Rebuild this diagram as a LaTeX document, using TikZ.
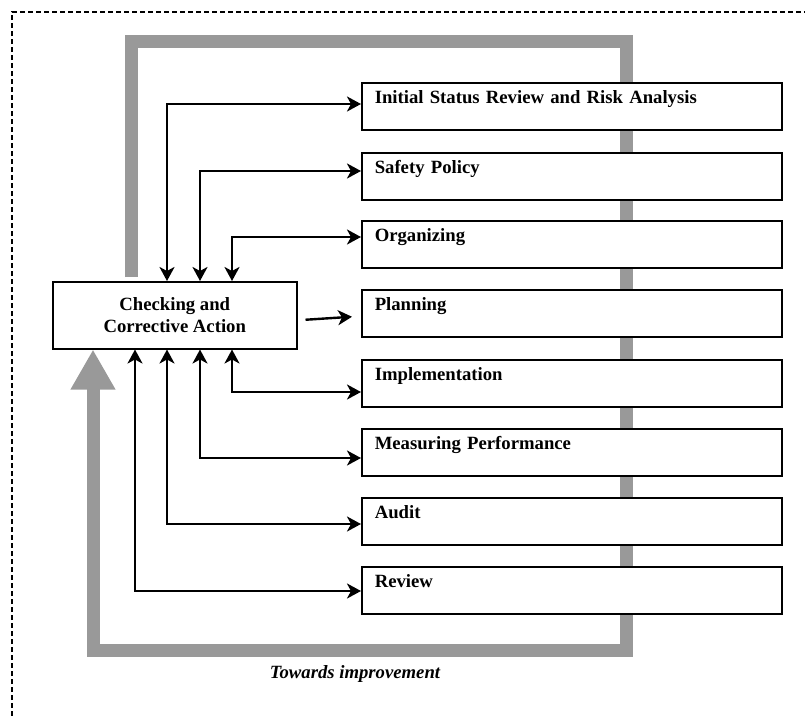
\documentclass[tikz,border=0pt]{standalone}
\usepackage{fontspec}
\setmainfont{Liberation Serif}
\usetikzlibrary{arrows.meta,calc}
\definecolor{bandgray}{HTML}{999999}
\tikzset{
  stepbox/.style={draw, line width=1.5pt, fill=white, anchor=north west,
    text width=394pt, inner xsep=13pt, inner ysep=0pt, text height=21pt, text depth=26pt,
    align=left, font=\fontsize{18.7}{22}\selectfont\bfseries},
  chkbox/.style={draw, line width=1.5pt, fill=white, anchor=north west,
    minimum width=244pt, minimum height=67pt, inner sep=0pt, align=center,
    font=\fontsize{18.7}{22}\selectfont\bfseries},
  conn/.style={line width=2.4pt, {Stealth[length=14pt,width=15pt,inset=4pt]}-{Stealth[length=14pt,width=15pt,inset=4pt]}},
  oneway/.style={line width=2.4pt, -{Stealth[length=14pt,width=15pt,inset=4pt]}},
  band/.style={line width=13pt, draw=bandgray, line join=miter},
  frame/.style={line width=1.4pt, dash pattern=on 5pt off 3pt}
}
\begin{document}
\begin{tikzpicture}[x=1pt,y=-1pt]
\useasboundingbox (0,0) rectangle (805,715);
\draw[frame] (12,716) -- (12,12) -- (806,12);

\node[chkbox] (chk) at (52,281) {Checking and\\Corrective Action};

\draw[band] (131.5,277) -- (131.5,41) -- (626.5,41) -- (626.5,650.5) -- (93,650.5) -- (93,390);
\draw[band, -{Triangle[length=40pt,width=42pt]}] (93,400) -- ([xshift=41pt]chk.south west);

\node[stepbox] (b1) at (361,82) {Initial Status Review and Risk Analysis};
\node[stepbox] (b2) at (361,152) {Safety Policy};
\node[stepbox] (b3) at (361,220) {Organizing};
\node[stepbox] (b4) at (361,289) {Planning};
\node[stepbox] (b5) at (361,359) {Implementation};
\node[stepbox] (b6) at (361,428) {Measuring Performance};
\node[stepbox] (b7) at (361,497) {Audit};
\node[stepbox] (b8) at (361,566) {Review};

\draw[conn] ([xshift=115pt]chk.north west) |- ([yshift=-22pt]b1.north west);
\draw[conn] ([xshift=148pt]chk.north west) |- ([yshift=-19pt]b2.north west);
\draw[conn] ([xshift=180pt]chk.north west) |- ([yshift=-17pt]b3.north west);
\draw[oneway] ([xshift=8pt,yshift=-4.5pt]chk.east) -- ([xshift=-9pt,yshift=-3.5pt]b4.west);
\draw[conn] ([xshift=180pt]chk.south west) |- ([yshift=-33pt]b5.north west);
\draw[conn] ([xshift=148pt]chk.south west) |- ([yshift=-30pt]b6.north west);
\draw[conn] ([xshift=115pt]chk.south west) |- ([yshift=-27pt]b7.north west);
\draw[conn] ([xshift=83pt]chk.south west) |- ([yshift=-25pt]b8.north west);

\node[anchor=base, font=\fontsize{18.7}{22}\selectfont\bfseries\itshape] (imp) at (355,678) {Towards improvement};
\end{tikzpicture}
\end{document}
